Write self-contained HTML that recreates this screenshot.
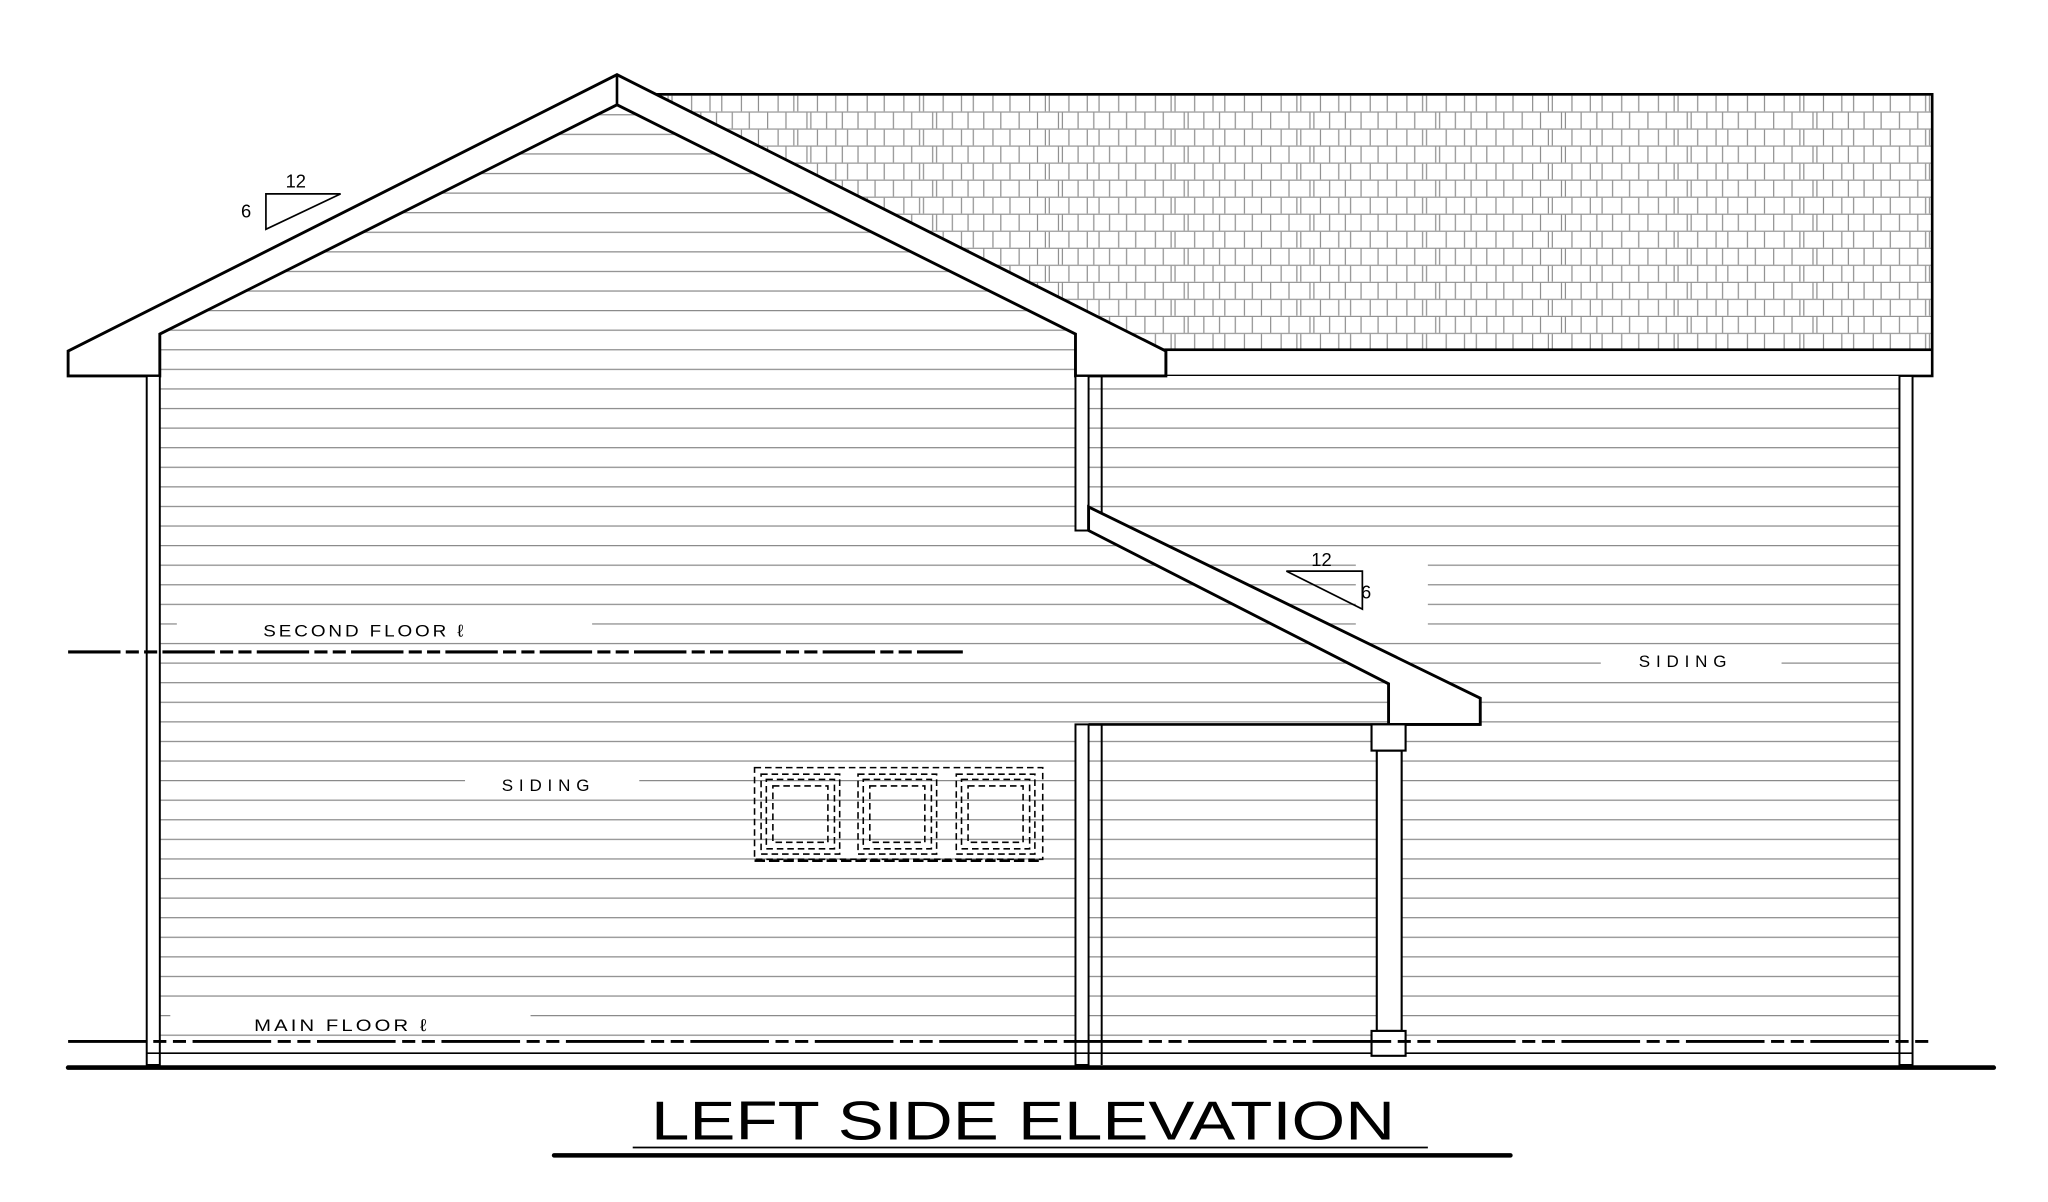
<!DOCTYPE html>
<html><head><meta charset="utf-8"><style>
html,body{margin:0;padding:0;background:#fff;}
svg{display:block;}
text{font-family:"Liberation Sans",sans-serif;fill:#000;}
</style></head><body>
<svg width="2048" height="1202" viewBox="0 0 1563.4 917.6" preserveAspectRatio="none" xmlns="http://www.w3.org/2000/svg">
<defs>
<pattern id="sid" patternUnits="userSpaceOnUse" x="0" y="12.4" width="50" height="14.95">
<rect x="0" y="0" width="50" height="14.95" fill="#fff"/>
<line x1="0" y1="0.4" x2="50" y2="0.4" stroke="#8a8a8a" stroke-width="1"/>
</pattern>
<pattern id="shg" patternUnits="userSpaceOnUse" x="0" y="72" width="96" height="26">
<rect width="96" height="26" fill="#fff"/>
<g stroke="#8c8c8c" stroke-width="0.9">
<line x1="0" y1="0.5" x2="96" y2="0.5"/><line x1="0" y1="13.5" x2="96" y2="13.5"/>
<line x1="3" y1="1" x2="3" y2="13"/><line x1="18" y1="1" x2="18" y2="13"/><line x1="30" y1="1" x2="30" y2="13"/><line x1="33" y1="1" x2="33" y2="13"/><line x1="48" y1="1" x2="48" y2="13"/><line x1="62" y1="1" x2="62" y2="13"/><line x1="71" y1="1" x2="71" y2="13"/><line x1="86" y1="1" x2="86" y2="13"/>
<line x1="10" y1="14" x2="10" y2="26"/><line x1="24" y1="14" x2="24" y2="26"/><line x1="40" y1="14" x2="40" y2="26"/><line x1="43" y1="14" x2="43" y2="26"/><line x1="55" y1="14" x2="55" y2="26"/><line x1="67" y1="14" x2="67" y2="26"/><line x1="79" y1="14" x2="79" y2="26"/><line x1="92" y1="14" x2="92" y2="26"/>
</g>
</pattern>
<clipPath id="wallclip"><polygon points="122,255 471,80 821,255 821,287 1450,287 1450,800 122,800"/></clipPath>
</defs>

<!-- shingled hip roof -->
<rect x="471" y="72" width="1004" height="195" fill="url(#shg)" stroke="#000" stroke-width="2"/>
<rect x="890" y="267" width="585" height="20" fill="#fff" stroke="#000" stroke-width="2"/>

<!-- siding -->
<rect x="100" y="60" width="1400" height="760" fill="url(#sid)" clip-path="url(#wallclip)"/>

<!-- label backgrounds (break siding lines) -->
<rect x="135" y="470" width="317" height="20" fill="#fff"/>
<rect x="130" y="770" width="275" height="18" fill="#fff"/>
<rect x="355" y="590" width="133" height="18" fill="#fff"/>
<rect x="1222" y="495" width="138" height="18" fill="#fff"/>
<rect x="1035" y="425" width="55" height="60" fill="#fff"/>

<!-- gable -->
<polygon points="52,268 471,57 890,268 890,287 821,287 821,255 471,80 122,255 122,287 52,287" fill="#fff" stroke="#000" stroke-width="2.2" stroke-linejoin="miter"/>
<line x1="471" y1="57" x2="471" y2="80" stroke="#000" stroke-width="2"/>

<!-- wall corner trims -->
<g fill="#fff" stroke="#000" stroke-width="1.5">
<rect x="112" y="287" width="10" height="526"/>
<rect x="1450" y="287" width="10" height="526"/>
<rect x="821" y="287" width="10" height="118"/>
<rect x="821" y="553" width="10" height="260"/>
</g>
<line x1="841" y1="287" x2="841" y2="394" stroke="#000" stroke-width="1.5"/>
<line x1="841" y1="553" x2="841" y2="813" stroke="#000" stroke-width="1.5"/>
<line x1="112" y1="804" x2="1460" y2="804" stroke="#000" stroke-width="1.3"/>

<!-- lower shed roof -->
<polygon points="831,387 1130,533 1130,553 831,553 831,405 1060,522 1060,553 831,553" fill="none" stroke="none"/>
<polygon points="831,387 1130,533 1130,553 1060,553 1060,522 831,405" fill="#fff" stroke="#000" stroke-width="2.2"/>
<line x1="831" y1="553" x2="1130" y2="553" stroke="#000" stroke-width="2"/>

<!-- column -->
<g fill="#fff" stroke="#000" stroke-width="1.6">
<rect x="1051" y="573" width="19" height="214"/>
<rect x="1047" y="553" width="26" height="20"/>
<rect x="1047" y="787" width="26" height="19"/>
</g>

<!-- window -->
<g fill="none" stroke="#000" stroke-width="1.2" stroke-dasharray="5,3">
<rect x="576" y="586" width="220" height="70"/>
<rect x="581" y="591" width="60" height="61"/><rect x="655" y="591" width="60" height="61"/><rect x="730" y="591" width="60" height="61"/>
<rect x="585" y="595" width="52" height="53"/><rect x="659" y="595" width="52" height="53"/><rect x="734" y="595" width="52" height="53"/>
<rect x="590" y="600" width="42" height="43"/><rect x="664" y="600" width="42" height="43"/><rect x="739" y="600" width="42" height="43"/>
</g>
<line x1="576" y1="657" x2="796" y2="657" stroke="#000" stroke-width="2" stroke-dasharray="8,3"/>

<!-- floor lines -->
<line x1="52" y1="497.7" x2="735" y2="497.7" stroke="#000" stroke-width="2.4" stroke-dasharray="40,4,10,4,10,4"/>
<line x1="52" y1="795" x2="1475" y2="795" stroke="#000" stroke-width="2.2" stroke-dasharray="60,5,10,5,10,5"/>
<!-- ground -->
<line x1="52" y1="815" x2="1522" y2="815" stroke="#000" stroke-width="3.5" stroke-linecap="round"/>

<!-- slope markers -->
<polygon points="203,148 260,148 203,175" fill="none" stroke="#000" stroke-width="1.3"/>
<text x="218" y="143" font-size="14">12</text>
<text x="184" y="166" font-size="14">6</text>
<polygon points="982,436 1040,436 1040,465" fill="none" stroke="#000" stroke-width="1.3"/>
<text x="1001" y="432" font-size="14">12</text>
<text x="1039" y="457" font-size="14">6</text>

<!-- labels -->
<text x="201" y="486" font-size="13" letter-spacing="2" textLength="155" lengthAdjust="spacingAndGlyphs">SECOND FLOOR ℓ</text>
<text x="194" y="787" font-size="13" letter-spacing="2" textLength="134" lengthAdjust="spacingAndGlyphs">MAIN FLOOR ℓ</text>
<text x="383" y="604" font-size="13" textLength="67" lengthAdjust="spacing">SIDING</text>
<text x="1251" y="509" font-size="13" textLength="67" lengthAdjust="spacing">SIDING</text>

<!-- title -->
<text x="497" y="870" font-size="42" font-weight="normal" textLength="568" lengthAdjust="spacingAndGlyphs" transform="translate(0,0)">LEFT SIDE ELEVATION</text>
<line x1="483" y1="876" x2="1090" y2="876" stroke="#000" stroke-width="1.3"/>
<line x1="423" y1="882" x2="1153" y2="882" stroke="#000" stroke-width="3.5" stroke-linecap="round"/>
</svg>
</body></html>
